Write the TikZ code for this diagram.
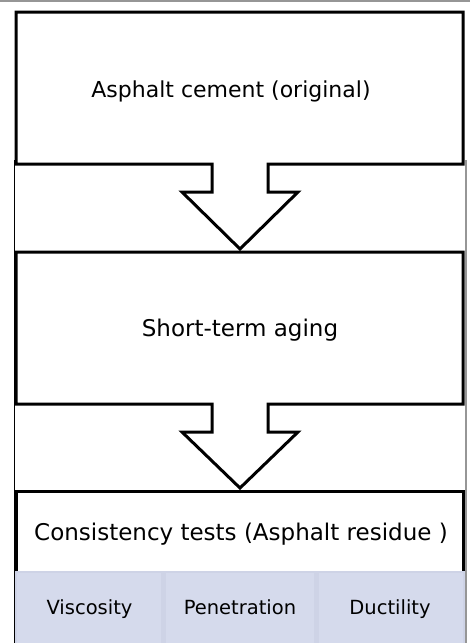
\documentclass[tikz,border=0pt]{standalone}
\usepackage{fontspec}
\setmainfont{DejaVu Sans}
\definecolor{bandedge}{RGB}{206,211,230}
\definecolor{bandfill}{RGB}{213,218,236}
\definecolor{framegray}{RGB}{150,150,150}
\tikzset{
  thickline/.style={draw=black, line width=3pt, line join=miter},
  thinframe/.style={line width=1.2pt},
  maintext/.style={font=\fontsize{23}{26}\selectfont, inner sep=0pt, anchor=base},
  celltext/.style={font=\fontsize{19.5}{22}\selectfont, inner sep=0pt, anchor=base},
}
\begin{document}
\begin{tikzpicture}[x=1pt,y=-1pt]
\useasboundingbox (0,0) rectangle (470,643);
\fill[white] (0,0) rectangle (470,643);
% top thin gray line
\draw[framegray, line width=1.5pt] (0,1) -- (470,1);
% outer thin frame
\draw[black, thinframe] (14.5,160) -- (14.5,643);
\draw[framegray, thinframe] (466,160) -- (466,643);
% bottom band
\fill[bandedge] (15,571) rectangle (465,643);
\fill[bandfill] (17,573) rectangle (161,643);
\fill[bandfill] (166,573) rectangle (314,643);
\fill[bandfill] (319,573) rectangle (463,643);
% box 1 with arrow
\draw[thickline] (16,12) -- (463,12) -- (463,164) -- (268,164) -- (268,192) -- (298,192)
  -- (240,249) -- (182,192) -- (212,192) -- (212,164) -- (16,164) -- cycle;
% box 2 with arrow
\draw[thickline] (16,252) -- (463,252) -- (463,404) -- (268,404) -- (268,432) -- (298,432)
  -- (240,488) -- (182,432) -- (212,432) -- (212,404) -- (16,404) -- cycle;
% box 3
\draw[thickline] (16,571) -- (16,491) -- (463,491) -- (463,571);
% texts
\node[maintext, font=\fontsize{22}{25}\selectfont] (t1) at (231,97) {Asphalt cement (original)};
\node[maintext] (t2) at (240,336) {Short-term aging};
\node[maintext] (t3) at (241,540) {Consistency tests (Asphalt residue )};
\node[celltext] (c1) at (89.5,614) {Viscosity};
\node[celltext] (c2) at (240,614) {Penetration};
\node[celltext] (c3) at (390,614) {Ductility};
\end{tikzpicture}
\end{document}
